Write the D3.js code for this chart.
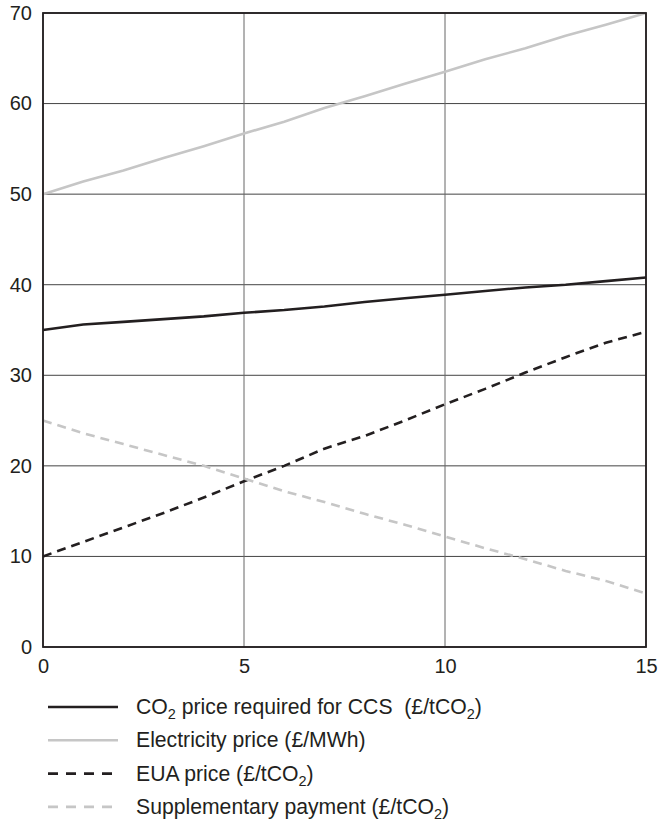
<!DOCTYPE html>
<html>
<head>
<meta charset="utf-8">
<script src="https://cdn.jsdelivr.net/npm/d3@7"></script>
<style>
  body { margin: 0; background: #fff; }
  text { font-family: "Liberation Sans", Arial, sans-serif; fill: #231f20; }
</style>
</head>
<body>
<div id="chart"></div>
<script>
var years = [0, 1, 2, 3, 4, 5, 6, 7, 8, 9, 10, 11, 12, 13, 14, 15];

var co2PriceCCS = [35.0, 35.6, 35.9, 36.2, 36.5, 36.9, 37.2, 37.6, 38.1, 38.5, 38.9, 39.3, 39.7, 40.0, 40.4, 40.8];
var electricityPrice = [50.0, 51.4, 52.6, 54.0, 55.3, 56.7, 58.0, 59.5, 60.8, 62.2, 63.5, 64.9, 66.1, 67.5, 68.7, 70.0];
var euaPrice = [10.0, 11.6, 13.2, 14.8, 16.5, 18.3, 20.0, 21.9, 23.3, 25.0, 26.8, 28.5, 30.3, 32.0, 33.6, 34.8];
var supplementaryPayment = [25.0, 23.6, 22.4, 21.2, 20.0, 18.6, 17.2, 16.0, 14.7, 13.5, 12.2, 10.9, 9.7, 8.4, 7.3, 5.9];

var xTicks = [0, 5, 10, 15];
var yTicks = [0, 10, 20, 30, 40, 50, 60, 70];

var seriesNames = [
  ["CO", "2", " price required for CCS  (£/tCO", "2", ")"],
  ["Electricity price (£/MWh)"],
  ["EUA price (£/tCO", "2", ")"],
  ["Supplementary payment (£/tCO", "2", ")"]
];

var margin = {top: 13, right: 13, bottom: 176, left: 43},
    width = 659 - margin.left - margin.right,
    height = 823 - margin.top - margin.bottom;

var series = [
  {values: co2PriceCCS, color: "#231f20", dash: null},
  {values: electricityPrice, color: "#c6c6c6", dash: null},
  {values: euaPrice, color: "#231f20", dash: "9,6"},
  {values: supplementaryPayment, color: "#c6c6c6", dash: "9,6"}
];

var svg = d3.select("#chart")
  .append("svg")
    .attr("width", 659)
    .attr("height", 823);

var g = svg.append("g")
    .attr("transform", "translate(" + margin.left + "," + margin.top + ")");

var xScale = d3.scaleLinear().domain([0, 15]).range([0, width]);
var yScale = d3.scaleLinear().domain([0, 70]).range([height, 0]);

// grid
g.append("g")
  .selectAll("line")
  .data(yTicks)
  .enter().append("line")
    .attr("x1", 0)
    .attr("x2", width)
    .attr("y1", function(d) { return yScale(d); })
    .attr("y2", function(d) { return yScale(d); })
    .attr("stroke", "#444")
    .attr("stroke-width", 1);

g.append("g")
  .selectAll("line")
  .data(xTicks)
  .enter().append("line")
    .attr("y1", 0)
    .attr("y2", height)
    .attr("x1", function(d) { return xScale(d); })
    .attr("x2", function(d) { return xScale(d); })
    .attr("stroke", "#666")
    .attr("stroke-width", 1);

// axes
var xAxis = d3.axisBottom(xScale).tickValues(xTicks).tickSize(0).tickPadding(12);
var yAxis = d3.axisLeft(yScale).tickValues(yTicks).tickSize(0).tickPadding(11);

g.append("g")
  .attr("transform", "translate(0," + height + ")")
  .call(xAxis)
  .call(function(s) { s.select(".domain").remove(); })
  .selectAll("text")
    .style("font-size", "20px")
    .attr("fill", "#231f20");

g.append("g")
  .call(yAxis)
  .call(function(s) { s.select(".domain").remove(); })
  .selectAll("text")
    .style("font-size", "20px")
    .attr("fill", "#231f20");

// lines
var line = d3.line()
  .x(function(d, i) { return xScale(years[i]); })
  .y(function(d) { return yScale(d); });

series.forEach(function(s) {
  g.append("path")
    .datum(s.values)
    .attr("d", line)
    .attr("fill", "none")
    .attr("stroke", s.color)
    .attr("stroke-width", 2.6)
    .attr("stroke-dasharray", s.dash);
});

// frame
g.append("rect")
  .attr("width", width)
  .attr("height", height)
  .attr("fill", "none")
  .attr("stroke", "#231f20")
  .attr("stroke-width", 1.8);

// legend
var legend = svg.append("g")
  .attr("transform", "translate(48,707)");

series.forEach(function(s, i) {
  var row = legend.append("g")
    .attr("transform", "translate(0," + (i * 33.3) + ")");
  row.append("line")
    .attr("x1", 0)
    .attr("x2", 70)
    .attr("stroke", s.color)
    .attr("stroke-width", 2.6)
    .attr("stroke-dasharray", s.dash ? "10,8" : null);
  var t = row.append("text")
    .attr("x", 88)
    .attr("y", 7)
    .style("font-size", "21.2px")
    .style("white-space", "pre");
  seriesNames[i].forEach(function(part) {
    if (part === "2") {
      t.append("tspan").attr("dy", 5).style("font-size", "14.5px").text(part);
    } else {
      var ts = t.append("tspan").text(part);
      if (t.selectAll("tspan").size() > 1) ts.attr("dy", -5);
    }
  });
});
</script>
</body>
</html>
